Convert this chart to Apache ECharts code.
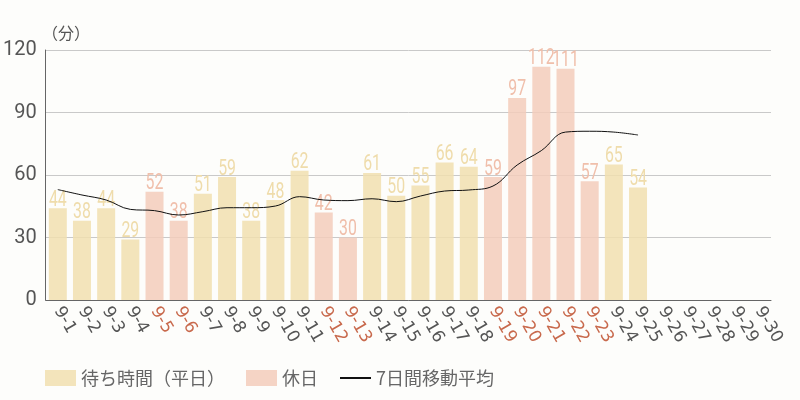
<!DOCTYPE html>
<html>
<head>
<meta charset="utf-8">
<script src="https://cdn.jsdelivr.net/npm/echarts@6/dist/echarts.min.js"></script>
<style>
  html, body { margin: 0; padding: 0; background: #fdfdfb; }
  #chart-container { width: 800px; height: 400px; }
</style>
</head>
<body>
<div id="chart-container"></div>
<script>
// days of september
var days = [];
for (let d = 1; d <= 30; d++) days.push('9-' + d);

// holidays (weekend + silver week)
var holidays = ['9-5', '9-6', '9-12', '9-13', '9-19', '9-20', '9-21', '9-22', '9-23'];

// waiting time per day (up to 9-25)
var waitTimes = [44, 38, 44, 29, 52, 38, 51, 59, 38, 48, 62, 42, 30, 61, 50, 55, 66, 64, 59, 97, 112, 111, 57, 65, 54];

// 7 day moving average
var movingAvg = [53, 50.4, 48, 43.5, 42.9, 40.8, 42.4, 44.3, 44.3, 45.1, 49.6, 48, 47.7, 48.6, 47.2, 49.9, 52.3, 52.8, 54.7, 64.8, 71.7, 80.6, 81, 80.6, 79.2];

var weekdayColor = '#f1dfaf';
var holidayColor = '#f3cdbb';
var weekdayLabel = '#efdcab';
var holidayLabel = '#f0bfab';

// split into two series so the legend gets two entries
var weekdayData = [];
var holidayData = [];
var labelData = [];
for (let i = 0; i < waitTimes.length; i++)
{
   var isHoliday = holidays.indexOf(days[i]) !== -1;
   weekdayData.push(isHoliday ? '-' : waitTimes[i]);
   holidayData.push(isHoliday ? waitTimes[i] : '-');
   labelData.push([i, waitTimes[i], isHoliday ? 1 : 0]);
}

var xData = days.map(function (d)
{
   if (holidays.indexOf(d) !== -1) return { value: d, textStyle: { color: '#c8694c' } };
   return d;
});

var myChart = echarts.init(document.getElementById('chart-container'), null, { renderer: 'canvas' });

var option =
{
   animation: false,
   backgroundColor: '#fdfdfb',
   grid: { left: 45, right: 29, top: 50, bottom: 100 },
   graphic:
   [
      {
         type: 'text', left: 42, top: 25,
         style: { text: '（分）', fill: '#555', font: '16px "Noto Sans CJK JP", sans-serif' }
      }
   ],
   legend:
   {
      left: 45, top: 369, padding: 0,
      itemWidth: 31, itemHeight: 16, itemGap: 21, itemTextGap: 5,
      textStyle: { color: '#666', fontSize: 18, fontFamily: '"Noto Sans CJK JP", sans-serif' },
      data:
      [
         { name: '待ち時間（平日）', icon: 'rect' },
         { name: '休日', icon: 'rect' },
         { name: '7日間移動平均', itemStyle: { opacity: 0 }, lineStyle: { width: 2, color: '#111' } }
      ]
   },
   xAxis:
   {
      type: 'category',
      data: xData,
      axisLine: { lineStyle: { color: '#666' } },
      axisTick: { show: false },
      axisLabel:
      {
         interval: 0, rotate: -60, color: '#555', fontSize: 17, margin: 8,
         fontFamily: '"DejaVu Sans", sans-serif'
      }
   },
   yAxis:
   {
      type: 'value', min: 0, max: 120, interval: 30,
      axisLine: { show: true, lineStyle: { color: '#666' } },
      axisTick: { show: false },
      splitLine: { lineStyle: { color: '#c9c9c9' } },
      axisLabel: { color: '#555', fontSize: 20, fontFamily: 'Roboto, sans-serif', margin: 9 }
   },
   series:
   [
      {
         name: '待ち時間（平日）',
         type: 'bar', stack: 'wait',
         data: weekdayData,
         barWidth: 18,
         itemStyle: { color: weekdayColor, opacity: 0.85 }
      },
      {
         name: '休日',
         type: 'bar', stack: 'wait',
         data: holidayData,
         barWidth: 18,
         itemStyle: { color: holidayColor, opacity: 0.85 }
      },
      {
         name: '7日間移動平均',
         type: 'line',
         data: movingAvg,
         smooth: 0.4,
         symbol: 'none',
         lineStyle: { color: '#111', width: 1 },
         itemStyle: { color: '#111' },
         z: 5
      },
      {
         // value labels, squeezed horizontally to look like the narrow font
         name: 'labels',
         type: 'custom',
         data: labelData,
         encode: { x: 0, y: 1 },
         silent: true,
         z: 4,
         renderItem: (params, api) =>
         {
            var pt = api.coord([api.value(0), api.value(1)]);
            return {
               type: 'text',
               x: pt[0],
               y: pt[1] + 3,
               scaleX: 0.72,
               style:
               {
                  text: String(api.value(1)),
                  fill: api.value(2) ? holidayLabel : weekdayLabel,
                  fontSize: 22,
                  fontFamily: 'Roboto, sans-serif',
                  align: 'center',
                  verticalAlign: 'bottom'
               }
            };
         }
      }
   ]
};

myChart.setOption(option);
window.addEventListener('resize', myChart.resize);
</script>
</body>
</html>
